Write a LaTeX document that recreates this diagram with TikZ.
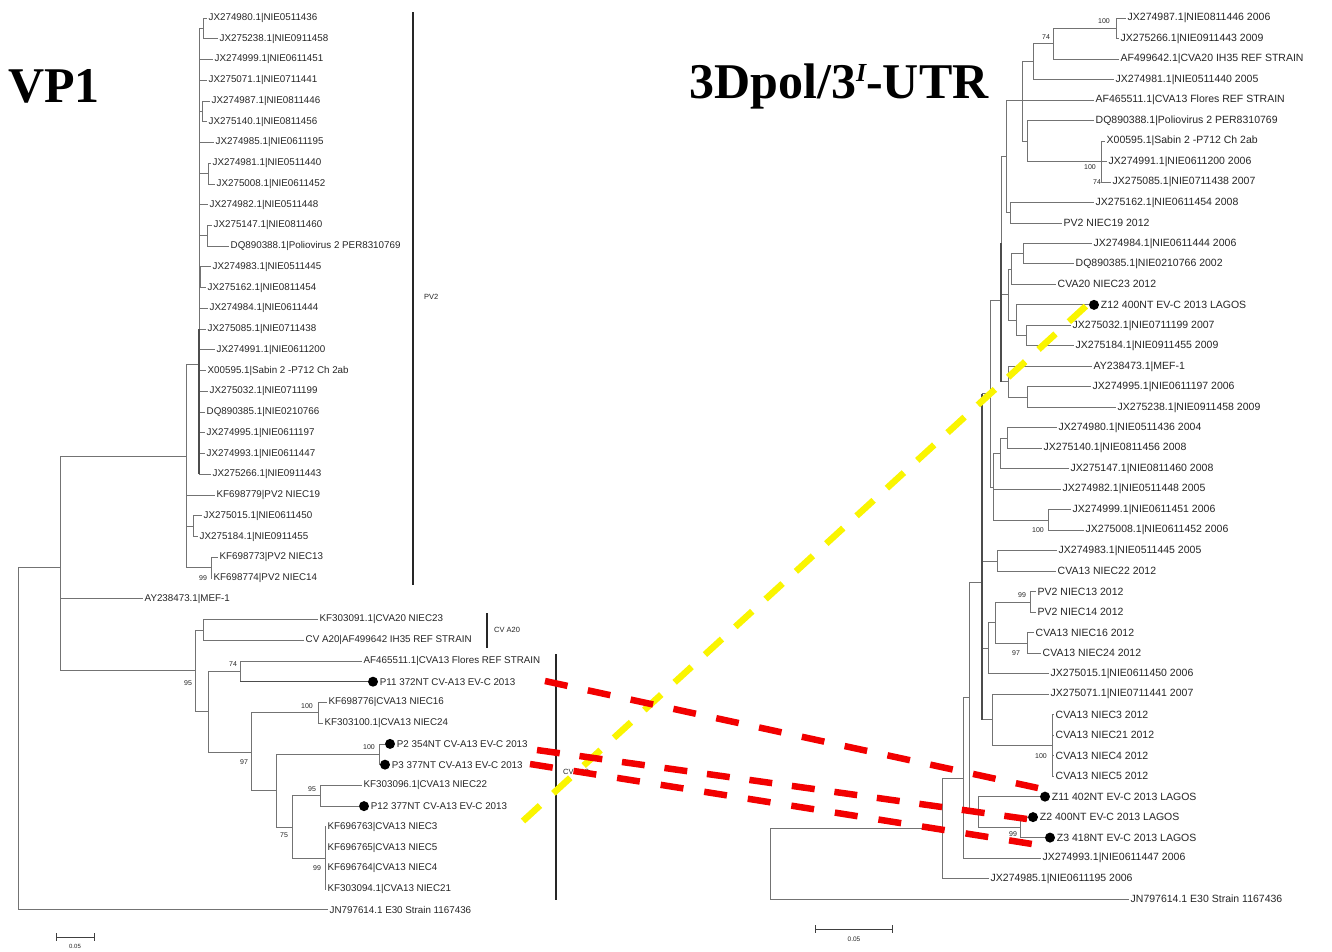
\documentclass[tikz,border=0pt]{standalone}
\usepackage{fontspec}
\setmainfont{Liberation Sans}
\newfontfamily\titlefont{Liberation Serif}
\usetikzlibrary{calc}
\colorlet{branch}{black!55}
\colorlet{tiptext}{black!85}
\colorlet{dashred}{red!95!black}
\definecolor{dashyellow}{RGB}{250,245,0}
\newcommand{\ltip}{\fontsize{9.8}{10}\selectfont}
\newcommand{\rtip}{\fontsize{10.5}{11}\selectfont}
\newcommand{\bootsize}{\fontsize{7}{7}\selectfont}
\tikzset{
  br/.style={draw=branch,line width=0.8pt},
  tipL/.style={anchor=west,inner sep=1.5pt,text=tiptext,font=\ltip},
  tipR/.style={anchor=west,inner sep=1.5pt,text=tiptext,font=\rtip},
  boot/.style={inner sep=0pt,text=tiptext,font=\bootsize},
  isolate/.style={circle,fill=black,inner sep=0pt,minimum size=10pt},
  cladebar/.style={line width=2.5pt,draw=black!85},
  cladename/.style={anchor=west,inner sep=0pt,text=tiptext,font=\fontsize{7.5}{8}\selectfont},
  matchdash/.style={line width=6.5pt,dash pattern=on 23pt off #1},
  scalebar/.style={draw=black!75,line width=1pt,|-|},
}

\begin{document}
\begin{tikzpicture}[x=1pt,y=-1pt]
\fill[white] (0,0) rectangle (1332,951);
\useasboundingbox (0,0) rectangle (1332,951);

\node[font=\titlefont\bfseries\fontsize{50}{50}\selectfont] (vpone) at (54,86) {VP1};
\node[font=\titlefont\bfseries\fontsize{50}{50}\selectfont] (threed) at (839,86)
  {3Dpol/3\raisebox{17pt}{\fontsize{26}{26}\selectfont\itshape I}-UTR};

% VP1 tree
\foreach \nm/\x/\y in {lroot/18/567, l60/60/567, lpv/186/456, l199/199/364, l203/203/28.4,
  l202/202/111.3, l208/208/173.6, l207/207/235.8, l200/200/277.2, l193/193/526.2, l211/211/567.6,
  lcv/195/670.8, lcvb/203/629.9, l208b/208/711.6, l74/240/671.3, l97/251/752, l100a/318/712.8,
  l276/276/790.6, l100b/379/754.3, l75/292/827, l95/320/795.8, l99/325/858}
  \coordinate (\nm) at (\x,\y);
\foreach \a/\b in {lroot/l60, l60/lpv, l60/lcv, lpv/l199, lpv/l193, lpv/l211, l199/l203, l199/l202,
  l199/l208, l199/l207, l199/l200, lcv/lcvb, lcv/l208b, l208b/l74, l208b/l97, l97/l100a, l97/l276,
  l276/l100b, l276/l75, l75/l95, l75/l99}
  \draw[br] (\a) |- (\b);
\foreach \k/\up/\x/\txt in {1/l203/207/JX274980.1|NIE0511436, 2/l203/218/JX275238.1|NIE0911458,
  3/l199/213/JX274999.1|NIE0611451, 4/l199/207/JX275071.1|NIE0711441, 5/l202/210/JX274987.1|NIE0811446,
  6/l202/207/JX275140.1|NIE0811456, 7/l199/214/JX274985.1|NIE0611195, 8/l208/211/JX274981.1|NIE0511440,
  9/l208/215/JX275008.1|NIE0611452, 10/l199/208/JX274982.1|NIE0511448, 11/l207/212/JX275147.1|NIE0811460,
  12/l207/229/DQ890388.1|Poliovirus 2 PER8310769, 13/l200/211/JX274983.1|NIE0511445,
  14/l200/206/JX275162.1|NIE0811454, 15/l199/208/JX274984.1|NIE0611444, 16/l199/206/JX275085.1|NIE0711438,
  17/l199/215/JX274991.1|NIE0611200, 18/l199/206/X00595.1|Sabin 2 -P712 Ch 2ab,
  19/l199/208/JX275032.1|NIE0711199, 20/l199/205/DQ890385.1|NIE0210766, 21/l199/205/JX274995.1|NIE0611197,
  22/l199/205/JX274993.1|NIE0611447, 23/l199/211/JX275266.1|NIE0911443, 24/lpv/215/KF698779|PV2 NIEC19,
  25/l193/202/JX275015.1|NIE0611450, 26/l193/198/JX275184.1|NIE0911455, 27/l211/218/KF698773|PV2 NIEC13,
  28/l211/212/KF698774|PV2 NIEC14, 29/l60/143/AY238473.1|MEF-1, 30/lcvb/318/KF303091.1|CVA20 NIEC23,
  31/lcvb/304/CV A20|AF499642 IH35 REF STRAIN, 32/l74/362/AF465511.1|CVA13 Flores REF STRAIN,
  34/l100a/327/KF698776|CVA13 NIEC16, 35/l100a/323/KF303100.1|CVA13 NIEC24,
  38/l95/362/KF303096.1|CVA13 NIEC22, 40/l99/326/KF696763|CVA13 NIEC3, 41/l99/326/KF696765|CVA13 NIEC5,
  42/l99/326/KF696764|CVA13 NIEC4, 43/l99/326/KF303094.1|CVA13 NIEC21,
  44/lroot/328/JN797614.1 E30 Strain 1167436}
{
  \node[tipL] (L\k) at (\x,{18+(\k-1)*20.74}) {\txt};
  \draw[br] (\up) |- (L\k.west);
}
\foreach \k/\up/\x/\txt in {33/l74/373/P11 372NT CV-A13 EV-C 2013, 36/l100b/390/P2 354NT CV-A13 EV-C 2013,
  37/l100b/385/P3 377NT CV-A13 EV-C 2013, 39/l95/364/P12 377NT CV-A13 EV-C 2013}
{
  \node[isolate] (L\k) at (\x,{18+(\k-1)*20.74}) {};
  \node[tipL] (TL\k) at (L\k.east) {\txt};
  \draw[br] (\up) |- (L\k.west);
}
\draw[br,line width=1.6pt,draw=black!70] (l199 |- L16.west) -- (l199 |- L23.west);
\draw[br,line width=1.3pt,draw=black!70] (l74 |- L33.west) -- (L33.west);
\foreach \x/\y/\v [count=\i] in {203/578/99, 233/664/74, 188/683/95, 307/706/100, 369/747/100,
  244/762/97, 312/789/95, 284/835/75, 317/868/99}
  \node[boot] (bl\i) at (\x,\y) {\v};

% 3Dpol tree
\foreach \nm/\x/\y in {rroot/770/828, r942/942/828, r963/963/778, r969/969/697, r982/982/582,
  r990/990/393.5, r1001/1001/300, rF/1006/156.3, rB/1022/100, rC/1033/61.5, r74/1053/43.6,
  r100a/1116/28.2, rD/1027/141, rE/1101/161.4, rG/1010/212.6, r1008a/1008/294.6, r1011/1011/269,
  r1023/1023/253.6, r1016/1016/320.2, r1026/1026/335.6, r1008b/1008/381.7, r1027b/1027/397,
  r993/993/487, r1000/1000/453.4, r1007/1007/438, r1048/1048/520, r997/997/561, r988/988/648,
  r995/995/622.5, r1030/1030/602, r1027c/1027/643, r992/992/719.8, r1052/1052/745.4,
  rz/978/812, rz23/1020/827.4}
  \coordinate (\nm) at (\x,\y);
\foreach \a/\b in {rroot/r942, r942/r963, r963/r969, r969/r982, r969/rz, rz/rz23, r982/r990,
  r982/r997, r982/r988, r982/r992, r988/r995, r995/r1030, r995/r1027c, r992/r1052, r990/r1001,
  r990/r993, r993/r1000, r993/r1048, r1000/r1007, r1001/rF, r1001/r1008a, r1001/r1008b, rF/rB,
  rF/rG, rB/rC, rB/rD, rC/r74, r74/r100a, rD/rE, r1008a/r1011, r1008a/r1016, r1011/r1023,
  r1016/r1026, r1008b/r1027b}
  \draw[br] (\a) |- (\b);
\foreach \k/\up/\x/\txt in {1/r100a/1126/JX274987.1|NIE0811446 2006, 2/r100a/1119/JX275266.1|NIE0911443 2009,
  3/r74/1119/AF499642.1|CVA20 IH35 REF STRAIN, 4/rC/1114/JX274981.1|NIE0511440 2005,
  5/rB/1094/AF465511.1|CVA13 Flores REF STRAIN, 6/rD/1094/DQ890388.1|Poliovirus 2 PER8310769,
  7/rE/1105/X00595.1|Sabin 2 -P712 Ch 2ab, 8/rE/1107/JX274991.1|NIE0611200 2006,
  9/rE/1111/JX275085.1|NIE0711438 2007, 10/rG/1094/JX275162.1|NIE0611454 2008,
  11/rG/1062/PV2 NIEC19 2012, 12/r1023/1092/JX274984.1|NIE0611444 2006,
  13/r1023/1074/DQ890385.1|NIE0210766 2002, 14/r1011/1056/CVA20 NIEC23 2012,
  16/r1026/1071/JX275032.1|NIE0711199 2007, 17/r1026/1074/JX275184.1|NIE0911455 2009,
  18/r1008b/1092/AY238473.1|MEF-1, 19/r1027b/1091/JX274995.1|NIE0611197 2006,
  20/r1027b/1116/JX275238.1|NIE0911458 2009, 21/r1007/1057/JX274980.1|NIE0511436 2004,
  22/r1007/1042/JX275140.1|NIE0811456 2008, 23/r1000/1069/JX275147.1|NIE0811460 2008,
  24/r993/1061/JX274982.1|NIE0511448 2005, 25/r1048/1071/JX274999.1|NIE0611451 2006,
  26/r1048/1084/JX275008.1|NIE0611452 2006, 27/r997/1057/JX274983.1|NIE0511445 2005,
  28/r997/1056/CVA13 NIEC22 2012, 29/r1030/1036/PV2 NIEC13 2012, 30/r1030/1036/PV2 NIEC14 2012,
  31/r1027c/1034/CVA13 NIEC16 2012, 32/r1027c/1041/CVA13 NIEC24 2012,
  33/r988/1049/JX275015.1|NIE0611450 2006, 34/r992/1049/JX275071.1|NIE0711441 2007,
  35/r1052/1054/CVA13 NIEC3 2012, 36/r1052/1054/CVA13 NIEC21 2012, 37/r1052/1054/CVA13 NIEC4 2012,
  38/r1052/1054/CVA13 NIEC5 2012, 42/r963/1041/JX274993.1|NIE0611447 2006,
  43/r942/989/JX274985.1|NIE0611195 2006, 44/rroot/1129/JN797614.1 E30 Strain 1167436}
{
  \node[tipR] (R\k) at (\x,{18+(\k-1)*20.49}) {\txt};
  \draw[br] (\up) |- (R\k.west);
}
\foreach \k/\up/\x/\txt in {15/r1016/1094/Z12 400NT EV-C 2013 LAGOS, 39/rz/1045/Z11 402NT EV-C 2013 LAGOS,
  40/rz23/1033/Z2 400NT EV-C 2013 LAGOS, 41/rz23/1050/Z3 418NT EV-C 2013 LAGOS}
{
  \node[isolate] (R\k) at (\x,{18+(\k-1)*20.49}) {};
  \node[tipR] (TR\k) at (R\k.east) {\txt};
  \draw[br] (\up) |- (R\k.west);
}
\draw[br,line width=1.4pt,draw=black!70] (r982 |- r990) -- (r982 |- r992);
\draw[br,line width=1.4pt,draw=black!70] (r1001 |- R12.west) -- (r1001 |- r1008b);
\foreach \x/\y/\v [count=\i] in {1104/21/100, 1046/37/74, 1090/167/100, 1097/182/74, 1038/530/100,
  1022/595/99, 1016/653/97, 1041/756/100, 1013/834/99}
  \node[boot] (br\i) at (\x,\y) {\v};

% clade bars
\draw[cladebar] (413,12) -- (413,585);
\node[cladename] (pvtwo) at (424,297) {PV2};
\draw[cladebar] (487,613) -- (487,648);
\node[cladename] (cvatwenty) at (494,630) {CV A20};
\draw[cladebar] (556,654) -- (556,900);
\node[cladename] (cvathirteen) at (563,772) {CV A13};

% scale bars
\draw[scalebar] (56,937) -- (95,937);
\node[boot,font=\fontsize{6}{6}\selectfont] (sbl) at (75,946) {0.05};
\draw[scalebar] (815,929) -- (893,929);
\node[boot,font=\fontsize{6.5}{6.5}\selectfont] (sbr) at (854,939) {0.05};

% matched isolates
\coordinate (p12end) at (523,821); \coordinate (z12end) at (1086,306);
\coordinate (p11end) at (545,681); \coordinate (z11end) at (1038,788);
\coordinate (p2end) at (537,750); \coordinate (z2end) at (1027,819);
\coordinate (p3end) at (530,764); \coordinate (z3end) at (1032,844);
\draw[matchdash=18.1pt,dashyellow] (p12end) -- (z12end);
\draw[matchdash=20.8pt,dashred] (p11end) -- (z11end);
\draw[matchdash=19.9pt,dashred] (p2end) -- (z2end);
\draw[matchdash=21.1pt,dashred] (p3end) -- (z3end);
\end{tikzpicture}
\end{document}
